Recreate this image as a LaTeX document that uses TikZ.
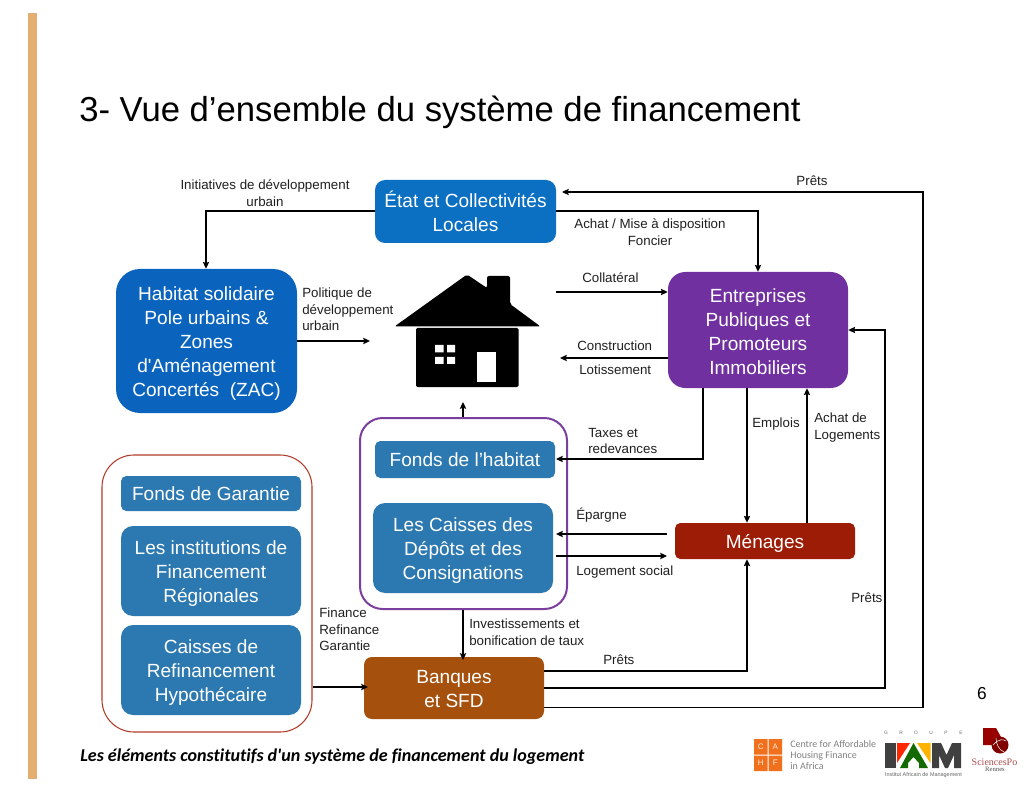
\documentclass[tikz,border=0pt]{standalone}
\usepackage{fontspec}
\setmainfont[Ligatures=TeXOff]{Liberation Sans}
\newfontfamily\capfont[Ligatures=NoCommon]{Carlito}
\newfontfamily\cahffont{Carlito}
\newfontfamily\spofont{Liberation Serif}
\usetikzlibrary{arrows.meta,calc}
\definecolor{barc}{HTML}{E3AE6F}
\definecolor{blueA}{HTML}{0B6FC2}
\definecolor{blueH}{HTML}{0A64BE}
\definecolor{blueB}{HTML}{2C78B0}
\definecolor{purp}{HTML}{7030A0}
\definecolor{redb}{HTML}{9C1C06}
\definecolor{brownb}{HTML}{A5500C}
\definecolor{grpP}{HTML}{7A3E9C}
\definecolor{grpR}{HTML}{B03A28}
\definecolor{cahf}{HTML}{F0701E}
\tikzset{
 x=0.75pt,y=-0.75pt,
 box/.style={draw=none,rounded corners=7.5pt,text=white,align=center,font=\fontsize{14.3}{18}\selectfont,inner sep=0pt},
 lbl/.style={font=\fontsize{10}{12.4}\selectfont,align=left,inner sep=0pt,text=black!88},
 conn/.style={draw=black,line width=1.1pt,-{Stealth[length=5pt,width=4.6pt,inset=0.6pt]}},
 logotxt/.style={inner sep=0pt},
}
% lowers a box's text by making its first line taller (argument: rule height)
\newcommand{\dn}[1]{\rule{0pt}{#1pt}}
\begin{document}
\begin{tikzpicture}
\useasboundingbox (0,0) rectangle (1024,791);
\fill[barc] (28,13) rectangle (37,779);
\node[anchor=west,inner sep=0pt,font=\fontsize{26}{30}\selectfont] (title) at (79,112) {3- Vue d’ensemble du système de financement};
% groups
\node[draw=grpR,line width=0.8pt,rounded corners=24pt,minimum width=157.5pt,minimum height=207.75pt,inner sep=0pt] (grpL) at (207,593.5) {};
\node[draw=grpP,line width=1.5pt,rounded corners=17pt,minimum width=155.25pt,minimum height=143.25pt,inner sep=0pt] (grpC) at (463.5,513.5) {};
% boxes
\node[box,fill=blueA,minimum width=135.75pt,minimum height=47.25pt] (etat) at (465.5,211.5) {État et Collectivités\\Locales};
\node[box,fill=blueH,minimum width=135.75pt,minimum height=108pt,rounded corners=18pt] (hab) at (206.5,341) {\dn{14.2}Habitat solidaire\\Pole urbains \&\\Zones\\d'Aménagement\\Concertés\ \ (ZAC)};
\node[box,fill=purp,minimum width=135pt,minimum height=87pt,rounded corners=13pt] (ent) at (758,330) {\dn{12.4}Entreprises\\Publiques et\\Promoteurs\\Immobiliers};
\node[box,fill=redb,minimum width=135pt,minimum height=27pt,rounded corners=4pt] (men) at (765,541) {\dn{14.6}Ménages};
\node[box,fill=blueB,minimum width=135pt,minimum height=27.75pt,rounded corners=4pt] (fh) at (465,459.5) {Fonds de l’habitat};
\node[box,fill=blueB,minimum width=135pt,minimum height=67.5pt,rounded corners=9pt] (cdc) at (463,548) {\dn{14}Les Caisses des\\Dépôts et des\\Consignations};
\node[box,fill=blueB,minimum width=135pt,minimum height=26.25pt,rounded corners=4pt] (fg) at (211,493.5) {Fonds de Garantie};
\node[box,fill=blueB,minimum width=135pt,minimum height=67.5pt,rounded corners=9pt] (ifr) at (211,571) {\dn{14.4}Les institutions de\\Financement\\Régionales};
\node[box,fill=blueB,minimum width=135pt,minimum height=67.5pt,rounded corners=9pt] (crh) at (211,670) {\dn{14.4}Caisses de\\Refinancement\\Hypothécaire};
\node[box,fill=brownb,minimum width=135pt,minimum height=46.5pt,rounded corners=6pt] (ban) at (454,688) {\dn{11.6}Banques\\et SFD};
% house
\fill[black,rounded corners=1.5pt] (394.5,326.5) -- (467,274.5) -- (487,288) -- (487,276) -- (510,276) -- (510,304) -- (540.5,326.5) -- cycle;
\fill[black,rounded corners=1pt] (416,328) rectangle (518.5,387);
\fill[white] (435,345) rectangle (443.5,352.5) (447,345) rectangle (455,352.5) (435,357) rectangle (443.5,364) (447,357) rectangle (455,364);
\fill[white] (477,352) rectangle (496,382.5);
\coordinate (houseW) at (370,341);
\coordinate (houseE) at (556,292);
\coordinate (houseE2) at (560,358);
\coordinate (houseS) at (463,402);
\coordinate (ep1) at (667,534);
\coordinate (ep2) at (556,534);
\coordinate (ls1) at (556,556);
\coordinate (ls2) at (667,556);
\coordinate (taxT) at (556,459);
\coordinate (pretT) at (562,192);
% connectors
\draw[conn,line width=0.9pt] (ban.east |- 0,707.5) -- (923,707.5) -- (923,192) -- (pretT);
\draw[conn] (etat.east |- 0,211) -- (758,211) -- (ent.north -| 758,0);
\draw[conn] (etat.west |- 0,211) -- (206,211) -- (hab.north -| 206,0);
\draw[conn] (hab.east |- 0,341) -- (houseW);
\draw[conn] (houseE) -- (ent.west |- houseE);
\draw[conn] (ent.west |- houseE2) -- (houseE2);
\draw[conn] (ent.south -| 703,0) -- (703,459) -- (taxT);
\draw[conn] (ent.south -| 747,0) -- (men.north -| 747,0);
\draw[conn] (men.north -| 807,0) -- (ent.south -| 807,0);
\draw[conn] (ban.east |- 0,688) -- (885,688) -- (885,330) -- (ent.east |- 0,330);
\draw[conn] (ban.east |- 0,671) -- (747,671) -- (men.south -| 747,0);
\draw[conn] (ep1) -- (ep2);
\draw[conn] (ls1) -- (ls2);
\draw[conn] (grpC.south -| 463,0) -- (463,660);
\draw[conn] (grpC.north -| 463,0) -- (houseS);
\draw[conn] (grpL.east |- 0,687) -- (368,687);
% labels
\node[lbl,align=center] (l1) at (265,193) {Initiatives de développement\\urbain};
\node[lbl,align=center] (l2) at (650,232) {Achat / Mise à disposition\\Foncier};
\node[lbl] (l3) at (812,181) {Prêts};
\node[lbl,anchor=west] (l4) at (582,278) {Collatéral};
\node[lbl,anchor=north west] (l5) at (302,288) {Politique de\\développement\\urbain};
\node[lbl,anchor=west] (l6) at (577,346) {Construction};
\node[lbl,anchor=west] (l7) at (579,370) {Lotissement};
\node[lbl,anchor=north west] (l8) at (588,428) {Taxes et\\redevances};
\node[lbl,anchor=west] (l9) at (752,424) {Emplois};
\node[lbl,anchor=north west] (l10) at (814,413) {Achat de\\Logements};
\node[lbl,anchor=west] (l11) at (576,515) {Épargne};
\node[lbl,anchor=west] (l12) at (576,572) {Logement social};
\node[lbl,anchor=west] (l13) at (851,598) {Prêts};
\node[lbl,anchor=north west] (l14) at (319,608) {Finance\\Refinance\\Garantie};
\node[lbl,anchor=north west] (l15) at (469,619) {Investissements et\\bonification de taux};
\node[lbl,anchor=west] (l16) at (603,660) {Prêts};
\node[anchor=center,inner sep=0pt,font=\fontsize{13}{15}\selectfont] (pg) at (982,694) {6};
\node[anchor=west,inner sep=0pt,font=\capfont\bfseries\itshape\fontsize{13.55}{16}\selectfont] (cap) at (80,756.5) {Les éléments constitutifs d'un système de financement du logement};
% CAHF logo
\fill[cahf] (754,739) rectangle (767.5,754.5) (768.5,739) rectangle (782,754.5) (754,755.5) rectangle (767.5,771) (768.5,755.5) rectangle (782,771);
\node[logotxt,font=\fontsize{6}{7}\selectfont,text=white!85!orange] (cC) at (760.7,746.7) {C};
\node[logotxt,font=\fontsize{6}{7}\selectfont,text=white!85!orange] (cA) at (775.3,746.7) {A};
\node[logotxt,font=\fontsize{6}{7}\selectfont,text=white!85!orange] (cH) at (760.7,763.2) {H};
\node[logotxt,font=\fontsize{6}{7}\selectfont,text=white!85!orange] (cF) at (775.3,763.2) {F};
\node[logotxt,anchor=north west,align=left,text=black!50,font=\cahffont\fontsize{7.5}{8.4}\selectfont] (cahftxt) at (790,740) {Centre for Affordable\\Housing Finance\\in Africa};
% IAM logo
\foreach \L/\X in {G/886,R/901,O/916,U/931,P/946,E/961}{
 \node[logotxt,font=\fontsize{3.6}{4}\selectfont,text=black!60] at (\X,733) {\L};
}
\fill[black!75] (885,743) rectangle (896,768);
\fill[red!70!orange] (897,743) -- (910,743) -- (897,763) -- cycle;
\fill[green!40!black!85!olive] (900,768) -- (913.5,743) -- (928,768) -- (919,768) -- (919,763) -- (913.5,757) -- (908,763) -- (908,768) -- cycle;
\fill[orange!60!yellow] (917,743) -- (930.5,743) -- (930.5,763) -- cycle;
\fill[black!75] (932,768) -- (932,743) -- (941,743) -- (946.5,755) -- (952,743) -- (961,743) -- (961,768) -- (954,768) -- (954,755) -- (948,768) -- (945,768) -- (939,755) -- (939,768) -- cycle;
\node[logotxt,font=\fontsize{4.1}{4.5}\selectfont,text=black!60] (iamtxt) at (923.5,775) {Institut Africain de Management};
% SciencesPo logo
\fill[red!60!black] (983,728) -- (996,728) -- (1001,737) -- (993,745) -- (983,745) -- cycle;
\fill[red!50!black] (1000,745) circle (8.5);
\draw[white,line width=0.4pt] (993,745) .. controls (998,739) and (1003,739) .. (1006,741);
\draw[white,line width=0.4pt] (996,738) .. controls (996,744) and (999,750) .. (1004,752);
\node[logotxt,font=\spofont\fontsize{7.5}{8}\selectfont,text=red!55!black!70] (sp) at (994.5,762) {SciencesPo};
\node[logotxt,font=\spofont\fontsize{5}{5.5}\selectfont,text=black!70] (rn) at (995,769) {Rennes};
\end{tikzpicture}
\end{document}
